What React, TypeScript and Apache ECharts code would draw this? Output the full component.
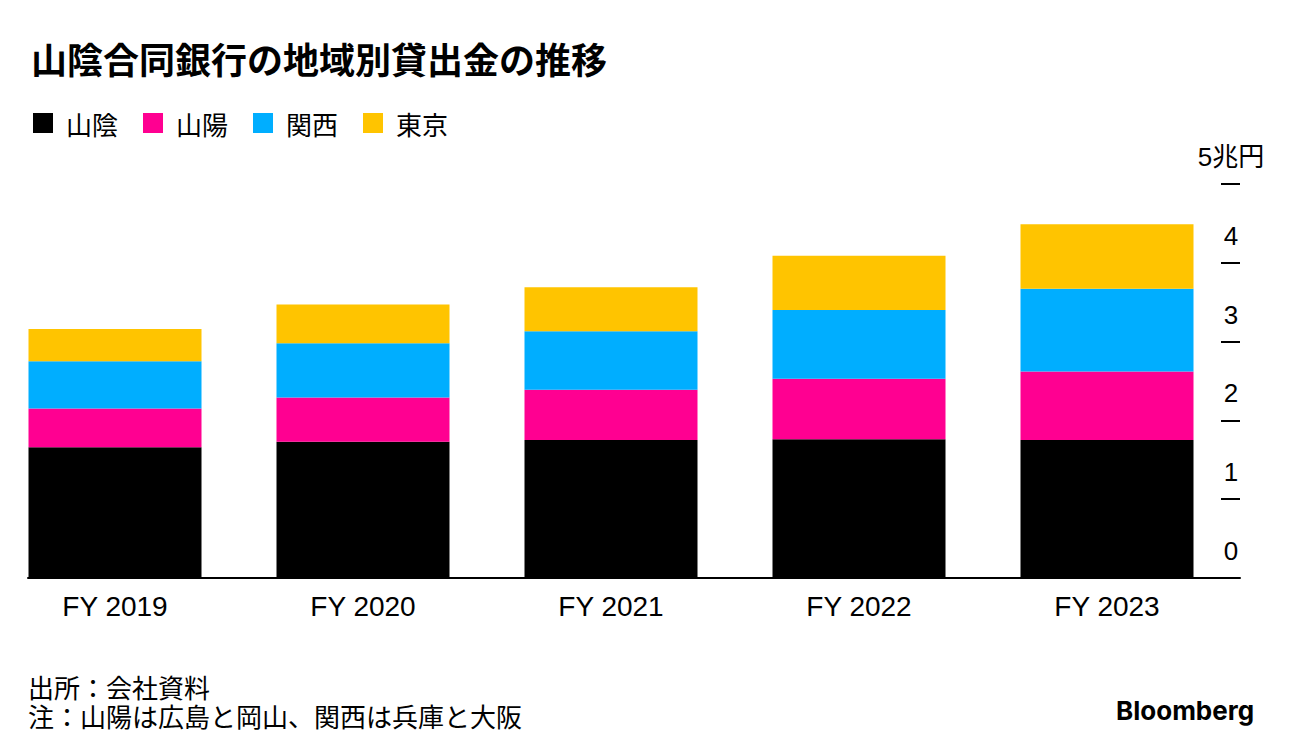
import React, { useEffect, useRef } from "react";
import * as echarts from "echarts";

const categories = ["FY 2019", "FY 2020", "FY 2021", "FY 2022", "FY 2023"];
const seriesNames = ["山陰", "山陽", "関西", "東京"];
const sanin = [1.66, 1.73, 1.75, 1.76, 1.75];
const sanyo = [0.49, 0.56, 0.64, 0.77, 0.87];
const kansai = [0.6, 0.69, 0.74, 0.87, 1.05];
const tokyo = [0.41, 0.49, 0.56, 0.69, 0.82];
const colors = ["#000000", "#FF0091", "#00AEFF", "#FFC400"];
const yTicks = [0, 1, 2, 3, 4, 5];
const unitLabel = "5兆円";
const title = "山陰合同銀行の地域別貸出金の推移";
const source = "出所：会社資料";
const note = "注：山陽は広島と岡山、関西は兵庫と大阪";

const JP = "'Noto Sans CJK JP', sans-serif";
const LAT = "'Liberation Sans', 'Noto Sans CJK JP', sans-serif";

export default function App() {
  const ref = useRef<HTMLDivElement>(null);
  useEffect(() => {
    if (!ref.current) return;
    const chart = echarts.init(ref.current, undefined, { renderer: "svg" });
    const values = [sanin, sanyo, kansai, tokyo];
    const top = 184;
    const bottom = 756 - 578;
    chart.setOption({
      animation: false,
      backgroundColor: "#ffffff",
      title: {
        text: title,
        left: 26,
        top: 35,
        textStyle: { fontFamily: JP, fontSize: 36, fontWeight: "bold", color: "#000" },
      },
      legend: {
        data: seriesNames,
        left: 28,
        top: 105,
        icon: "rect",
        itemWidth: 20,
        itemHeight: 20,
        itemGap: 25,
        textStyle: { fontFamily: JP, fontSize: 26, color: "#000", padding: [0, 0, 0, 8] },
      },
      grid: [
        { left: -9, width: 1240, top, bottom, containLabel: false, outerBoundsMode: "none" },
        { left: 28, width: 1212, top, bottom, containLabel: false, outerBoundsMode: "none" },
      ],
      xAxis: [
        {
          type: "category",
          gridIndex: 0,
          data: categories,
          axisLine: { show: false },
          axisTick: { show: false },
          axisLabel: { fontFamily: LAT, fontSize: 28, color: "#000", margin: 14 },
        },
        {
          type: "value",
          gridIndex: 1,
          min: 0,
          max: 1,
          axisLine: { show: true, onZero: false, lineStyle: { color: "#000", width: 2 } },
          axisTick: { show: false },
          axisLabel: { show: false },
          splitLine: { show: false },
        },
      ],
      yAxis: [
        {
          type: "value",
          gridIndex: 0,
          min: 0,
          max: 5,
          interval: 1,
          show: false,
        },
        {
          type: "value",
          gridIndex: 1,
          position: "right",
          min: 0,
          max: 5,
          interval: 1,
          axisLine: { show: false, onZero: false },
          axisTick: { show: true, inside: true, length: 19, lineStyle: { color: "#000", width: 2 } },
          splitLine: { show: false },
          axisLabel: {
            fontFamily: LAT,
            fontSize: 26,
            color: "#000",
            align: "center",
            verticalAlign: "bottom",
            margin: -9,
            padding: [0, 0, 14, 0],
            formatter: (v: number) => (v === 5 ? unitLabel : String(v)),
            customValues: yTicks,
          },
        },
      ],
      series: values.map((d, i) => ({
        name: seriesNames[i],
        type: "bar",
        stack: "total",
        xAxisIndex: 0,
        yAxisIndex: 0,
        barWidth: 173,
        itemStyle: { color: colors[i] },
        data: d,
      })),
      graphic: [
        {
          type: "text",
          left: 28,
          top: 672,
          style: { text: source + "\n" + note, font: `26px ${JP}`, lineHeight: 29, fill: "#000" },
        },
        {
          type: "text",
          left: 1116,
          top: 697,
          style: { text: "Bloomberg", font: `bold 26px Inter, 'Liberation Sans', sans-serif`, fill: "#000" },
        },
      ],
    });
    return () => chart.dispose();
  }, []);
  return (
    <div
      ref={ref}
      style={{ position: "fixed", left: 0, top: 0, width: 1296, height: 756, background: "#fff" }}
    />
  );
}
